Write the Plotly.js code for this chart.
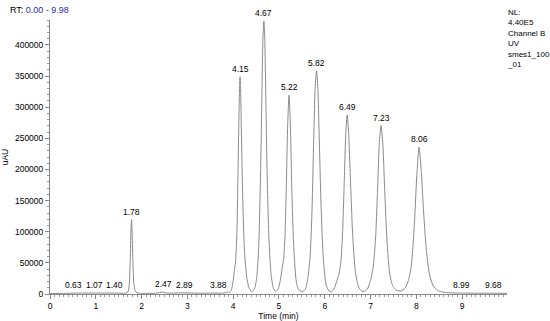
<!DOCTYPE html>
<html><head><meta charset="utf-8">
<script src="https://cdn.plot.ly/plotly-3.0.1.min.js"></script>
<style>html,body{margin:0;padding:0;background:#fff;}#chart{width:550px;height:321px;}</style>
</head><body><div id="chart"></div>
<script>
// Chromatogram trace (time in min, intensity in uAU)
const times = [
 0.00,0.30,0.63,1.07,1.40,1.65,1.70,1.73,1.75,1.765,1.78,1.795,1.81,1.83,1.86,1.90,1.95,
 2.30,2.47,2.55,2.89,3.30,3.60,3.80,3.85,3.88,3.92,3.96,4.00,4.03,4.05,4.08,4.10,4.12,4.14,4.15,4.16,4.18,4.21,4.25,4.30,4.35,4.41,
 4.47,4.52,4.56,4.60,4.63,4.65,4.67,4.69,4.71,4.74,4.78,4.83,4.88,4.93,
 4.98,5.03,5.07,5.10,5.13,5.16,5.19,5.22,5.25,5.28,5.32,5.37,5.42,5.51,
 5.58,5.63,5.68,5.72,5.76,5.79,5.82,5.85,5.88,5.92,5.97,6.03,6.09,6.15,
 6.20,6.26,6.31,6.35,6.39,6.43,6.46,6.49,6.52,6.56,6.61,6.67,6.74,6.80,6.86,
 6.93,7.00,7.06,7.11,7.15,7.19,7.23,7.27,7.31,7.36,7.42,7.49,7.57,7.67,
 7.75,7.82,7.88,7.93,7.97,8.01,8.06,8.11,8.16,8.22,8.29,8.37,8.46,8.58,8.75,8.99,9.30,9.68,9.98
];
const intensity = [
 800,1000,1500,1500,1500,1200,3000,15000,50000,95000,119500,95000,52000,18000,5000,1800,1200,
 1200,3000,1500,1800,1300,1400,1500,2500,3000,2500,6000,22000,40000,50000,95000,170000,260000,335000,348800,335000,260000,150000,65000,25000,9000,3500,
 9000,30000,80000,200000,330000,410000,438400,410000,330000,200000,90000,30000,9000,4000,
 8000,22000,42000,55000,90000,170000,270000,319500,270000,170000,80000,25000,8000,3500,
 8000,25000,60000,130000,250000,330000,358400,330000,250000,140000,55000,15000,5000,3500,
 8000,20000,32000,50000,100000,190000,260000,287500,260000,185000,95000,35000,11000,5000,4000,
 8000,22000,45000,90000,160000,240000,270400,240000,165000,85000,32000,12000,6000,5000,
 9000,20000,40000,80000,130000,190000,235700,195000,130000,70000,30000,13000,6000,3000,1800,1500,1200,1300,1000
];
// Peak labels
const peakRT     = ["0.63","1.07","1.40","1.78","2.47","2.89","3.88","4.15","4.67","5.22","5.82","6.49","7.23","8.06","8.99","9.68"];
const peakX      = [0.51,0.97,1.41,1.78,2.47,2.93,3.69,4.15,4.67,5.22,5.82,6.49,7.23,8.06,8.99,9.68];
const peakHeight = [1500,1500,1500,119500,3000,1800,1500,348800,438400,319500,358400,287500,270400,235700,1500,1300];

const FONT = 'Liberation Sans, Arial, sans-serif';
const annotations = peakRT.map((t,i)=>({
  x: peakX[i], y: peakHeight[i], text: t, showarrow:false,
  xanchor:'center', yanchor:'bottom', yshift:1,
  font:{family:FONT, size:8.5, color:'#000000'}
}));
annotations.push({
  xref:'paper', yref:'paper', x:-0.091, y:1.0, yshift:10, xanchor:'left', yanchor:'middle', showarrow:false,
  text:'RT: <span style="color:#2a2ab8">0.00 - 9.98</span>',
  font:{family:FONT, size:9, color:'#000000'}
});
annotations.push({
  xref:'paper', yref:'paper', x:1.0, xshift:-2, y:1.0, yshift:14, xanchor:'left', yanchor:'top', align:'left', showarrow:false,
  text:'NL:<br>4.40E5<br>Channel B<br>UV<br>smes1_100<br>_01',
  font:{family:FONT, size:8, color:'#000000'}
});

const trace = {
  x: times, y: intensity, type:'scatter', mode:'lines',
  line:{color:'#8a8a8a', width:1, shape:'spline', smoothing:0.6},
  hoverinfo:'skip'
};

const axisFont = {family:FONT, size:8.5, color:'#000000'};
const layout = {
  width:550, height:321,
  margin:{l:50, r:43, t:20, b:27, pad:0},
  paper_bgcolor:'#fff', plot_bgcolor:'#fff',
  showlegend:false,
  font: axisFont,
  xaxis:{
    range:[0,9.98], showgrid:false, zeroline:false,
    showline:true, linecolor:'#888', linewidth:1,
    ticks:'outside', ticklen:4, tickcolor:'#888', dtick:1, tick0:0,
    minor:{dtick:0.1, ticklen:2, tickcolor:'#999', ticks:'outside'},
    tickfont:axisFont,
    title:{text:'Time (min)', font:axisFont, standoff:1}
  },
  yaxis:{
    range:[0,440000], showgrid:false, zeroline:false,
    showline:true, linecolor:'#888', linewidth:1,
    ticks:'outside', ticklen:4, tickcolor:'#888', dtick:50000, tick0:0,
    minor:{dtick:10000, ticklen:2, tickcolor:'#999', ticks:'outside'},
    tickfont:axisFont, tickformat:'d',
    title:{text:'uAU', font:axisFont, standoff:4}
  },
  annotations: annotations
};
Plotly.newPlot('chart',[trace],layout,{staticPlot:true, displayModeBar:false});
</script></body></html>
